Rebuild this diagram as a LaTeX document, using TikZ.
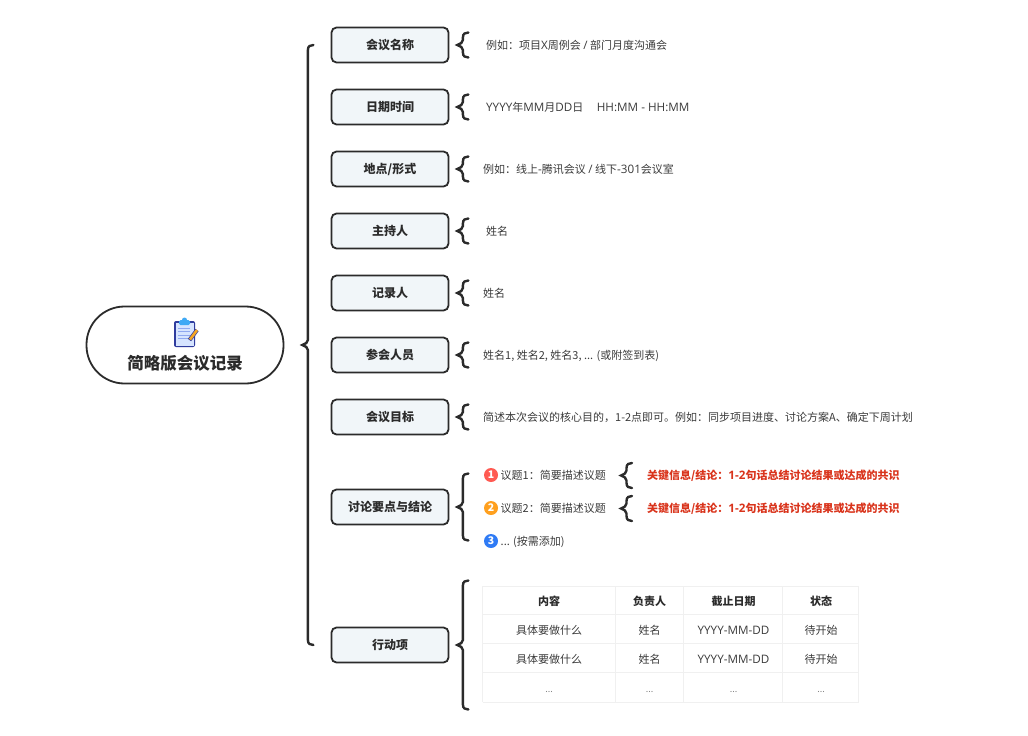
\documentclass[tikz,border=0pt]{standalone}
\usepackage{fontspec}
\setmainfont{Noto Sans CJK SC}
\newfontfamily\latinfont[Scale=1.06]{Open Sans}
\usetikzlibrary{calc}
\definecolor{inkline}{HTML}{2B2B2B}
\definecolor{boxfill}{HTML}{F1F6F9}
\definecolor{bodytext}{HTML}{3A3A3A}
\definecolor{keytext}{HTML}{D9341C}
\definecolor{gridline}{HTML}{F0F0F0}
\definecolor{dotred}{HTML}{FF5A52}
\definecolor{dotorange}{HTML}{FFA01E}
\definecolor{dotblue}{HTML}{2F7BF5}
\definecolor{iconedge}{HTML}{2F3C9E}
\definecolor{iconpaper}{HTML}{D6E4FF}
\definecolor{iconrule}{HTML}{8FA8F0}
\definecolor{iconclip}{HTML}{3FA9F5}
\definecolor{iconpencil}{HTML}{F5A623}
\tikzset{
  rootnode/.style={draw=inkline,line width=1.8pt,fill=white,rounded corners=38pt,minimum width=197pt,minimum height=77pt},
  roottext/.style={inner sep=0pt,text=inkline,font=\fontsize{16.5}{18}\selectfont\bfseries},
  itembox/.style={draw=inkline,line width=1.8pt,fill=boxfill,rounded corners=5pt,minimum width=117pt,minimum height=35pt,inner sep=0pt,text=inkline,font=\fontsize{12}{14}\selectfont\bfseries},
  bodyitem/.style={anchor=west,inner sep=0pt,yshift=-0.5pt,text=bodytext,font=\fontsize{11}{13}\selectfont},
  keyitem/.style={anchor=west,inner sep=0pt,yshift=-0.5pt,text=keytext,font=\fontsize{11}{13}\selectfont\bfseries},
  numdot/.style={circle,minimum size=14pt,inner sep=0pt,text=white,font=\fontsize{10.5}{11}\selectfont\bfseries},
  headcell/.style={inner sep=0pt,text=inkline,font=\fontsize{11}{13}\selectfont\bfseries},
  tablecell/.style={inner sep=0pt,text=bodytext,font=\fontsize{11}{13}\selectfont},
  bracelink/.style={draw=inkline,line width=2.4pt,line cap=round}
}
\newcommand{\moredots}{{\color{gray}\fontsize{9}{9}\selectfont ...}}
\newcommand{\bracelink}[3]{
  \coordinate (tip) at ($(#1)+(#2,0)$);
  \draw[bracelink] ($(tip)+(11,-#3)$) .. controls ($(tip)+(8,-#3)$) and ($(tip)+(5.5,-#3+1)$) .. ($(tip)+(5.5,-#3+5)$)
    -- ($(tip)+(5.5,-5)$) .. controls ($(tip)+(5.5,-2.5)$) and ($(tip)+(3,-1)$) .. (tip)
    .. controls ($(tip)+(3,1)$) and ($(tip)+(5.5,2.5)$) .. ($(tip)+(5.5,5)$)
    -- ($(tip)+(5.5,#3-5)$) .. controls ($(tip)+(5.5,#3-1)$) and ($(tip)+(8,#3)$) .. ($(tip)+(11,#3)$);
}
\begin{document}
\begin{tikzpicture}[x=1pt,y=-1pt]
  \useasboundingbox (0,0) rectangle (1028,736);

  % root
  \node[rootnode] (root) at (185,345) {};
  \node[roottext] (roottitle) at (185,363) {简略版会议记录};

  % clipboard icon
  \fill[fill=iconedge,rounded corners=2pt] (174,321) rectangle (195,347);
  \fill[fill=iconpaper] (175.5,323) rectangle (193.5,345.5);
  \fill[fill=iconclip,rounded corners=1.5pt] (179,320) rectangle (190,325);
  \fill[fill=iconclip] (184.5,320) circle (2.5);
  \foreach \ly in {328,331.5,335,338.5}{
    \draw[iconrule,line width=0.9pt] (178,\ly) -- (190,\ly);
  }
  \draw[iconedge,line width=4pt] (197,330) -- (189.5,340);
  \draw[iconpencil,line width=2.6pt] (197,330) -- (190,339.5);

  % left column
  \foreach \name/\yy/\label in {boxname/45/会议名称,boxtime/107/日期时间,boxplace/169/{地点/形式},boxhost/231/主持人,
      boxnote/293/记录人,boxpeople/355/参会人员,boxgoal/417/会议目标,boxtopic/507/讨论要点与结论,boxaction/645/行动项}{
    \node[itembox] (\name) at (390,\yy) {\label};
  }

  % details
  \node[bodyitem] (textname) at (486,45) {例如：项目{\latinfont X}周例会 {\latinfont /} 部门月度沟通会};
  \node[bodyitem] (texttime) at (486,107) {{\latinfont YYYY}年{\latinfont MM}月{\latinfont DD}日\hspace{13.5pt}{\latinfont HH:MM - HH:MM}};
  \node[bodyitem] (textplace) at (483,169) {例如：线上{\latinfont -}腾讯会议 {\latinfont /} 线下{\latinfont -301}会议室};
  \node[bodyitem] (texthost) at (486,231) {姓名};
  \node[bodyitem] (textnote) at (483,293) {姓名};
  \node[bodyitem] (textpeople) at (483,355) {姓名1, 姓名2, 姓名3, ... (或附签到表)};
  \node[bodyitem] (textgoal) at (483,417) {简述本次会议的核心目的，1-2点即可。例如：同步项目进度、讨论方案A、确定下周计划};

  % topics
  \node[numdot,fill=dotred] (dotone) at (491,475) {1};
  \node[numdot,fill=dotorange] (dottwo) at (491,508) {2};
  \node[numdot,fill=dotblue] (dotthree) at (491,541) {3};
  \node[bodyitem] (topicone) at (500.5,475) {议题1：简要描述议题};
  \node[bodyitem] (topictwo) at (500.5,508) {议题2：简要描述议题};
  \node[bodyitem] (topicthree) at (500.5,541) {... (按需添加)};
  \node[keyitem] (keyone) at (647,475) {关键信息/结论：{\latinfont 1-2}句话总结讨论结果或达成的共识};
  \node[keyitem] (keytwo) at (647,508) {关键信息/结论：{\latinfont 1-2}句话总结讨论结果或达成的共识};

  % table
  \foreach \ly in {586,614.5,643.5,672.5,702}{
    \draw[gridline,line width=1pt] (482.5,\ly) -- (858.5,\ly);
  }
  \foreach \lx in {482.5,615,683.5,782.5,858.5}{
    \draw[gridline,line width=1pt] (\lx,586) -- (\lx,702);
  }
  \node[headcell] (headwork) at (549,601) {内容};
  \node[headcell] (headowner) at (649.5,601) {负责人};
  \node[headcell] (headdate) at (733.5,601) {截止日期};
  \node[headcell] (headstate) at (821,601) {状态};
  \foreach \row/\yy/\work/\owner/\date/\state in {a/630/具体要做什么/姓名/{\latinfont YYYY-MM-DD}/待开始,
      b/659/具体要做什么/姓名/{\latinfont YYYY-MM-DD}/待开始,c/692/\moredots/\moredots/\moredots/\moredots}{
    \node[tablecell] (work\row) at (549,\yy) {\work};
    \node[tablecell] (owner\row) at (649.5,\yy) {\owner};
    \node[tablecell] (date\row) at (733.5,\yy) {\date};
    \node[tablecell] (state\row) at (821,\yy) {\state};
  }

  % braces
  \bracelink{root.east}{18}{300}
  \foreach \name in {boxname,boxtime,boxplace,boxhost,boxnote,boxpeople,boxgoal}{
    \bracelink{\name.east}{8}{12.5}
  }
  \bracelink{boxtopic.east}{8}{33.5}
  \bracelink{boxaction.east}{8}{64.5}
  \bracelink{keyone.west}{-26}{12.5}
  \bracelink{keytwo.west}{-26}{12.5}
\end{tikzpicture}
\end{document}
